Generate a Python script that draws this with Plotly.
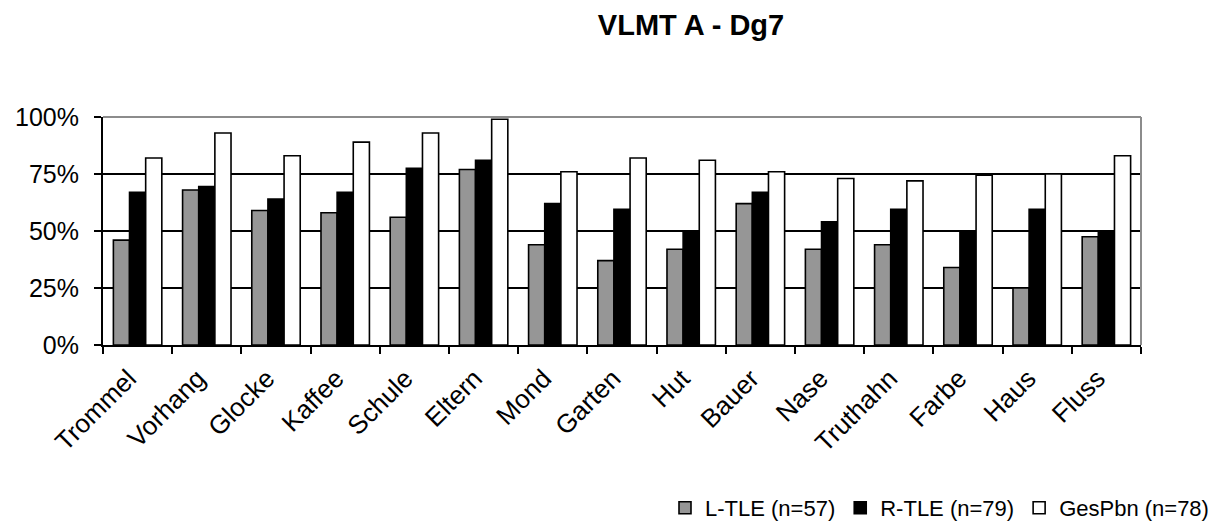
import plotly.graph_objects as go

# Words of the VLMT list A, in order of presentation
words = ["Trommel", "Vorhang", "Glocke", "Kaffee", "Schule", "Eltern", "Mond",
         "Garten", "Hut", "Bauer", "Nase", "Truthahn", "Farbe", "Haus", "Fluss"]

# Percentage of correctly recalled words per group (delayed recall, Dg7)
l_tle = [46, 68, 59, 58, 56, 77, 44, 37, 42, 62, 42, 44, 34, 25, 47.5]
r_tle = [67, 69.5, 64, 67, 77.5, 81, 62, 59.5, 50, 67, 54, 59.5, 50, 59.5, 50]
ges_pbn = [82, 93, 83, 89, 93, 99, 76, 82, 81, 76, 73, 72, 74.5, 75, 83]

series_names = ["L-TLE (n=57)", "R-TLE (n=79)", "GesPbn (n=78)"]
series_colors = ["#969696", "#000000", "#ffffff"]

y_tick_vals = [0, 25, 50, 75, 100]
y_tick_text = ["0%", "25%", "50%", "75%", "100%"]

FONT = "Liberation Sans, Arial, sans-serif"
W, H = 1228, 525

fig = go.Figure()
for name, vals, color in zip(series_names, [l_tle, r_tle, ges_pbn], series_colors):
    fig.add_bar(
        x=words, y=vals, name=name,
        marker=dict(color=color, line=dict(color="black", width=1.6)),
    )

fig.update_layout(
    width=W, height=H,
    margin=dict(l=103, r=87, t=117, b=180),
    barmode="group", bargap=0.3, bargroupgap=0,
    plot_bgcolor="white", paper_bgcolor="white",
    font=dict(family=FONT, color="black"),
    title=dict(
        text="<b>VLMT A - Dg7</b>",
        xref="container", x=691 / W, xanchor="center",
        yref="container", y=1 - 25 / H, yanchor="middle",
        font=dict(family=FONT, size=29, color="black"),
    ),
    legend=dict(
        orientation="h",
        xref="container", x=665 / W, xanchor="left",
        yref="container", y=17 / H, yanchor="middle",
        font=dict(family=FONT, size=22, color="black"),
        bgcolor="rgba(0,0,0,0)",
    ),
    showlegend=True,
)

fig.update_xaxes(
    showline=True, linecolor="black", linewidth=2,
    ticks="outside", tickson="boundaries", ticklen=7, tickwidth=2, tickcolor="black",
    tickangle=-45, tickfont=dict(family=FONT, size=26, color="black"),
    ticklabelshift=-9, ticklabelstandoff=6,
    showgrid=False,
)
fig.update_yaxes(
    range=[0, 100], tickvals=y_tick_vals, ticktext=y_tick_text,
    showline=True, linecolor="black", linewidth=2,
    ticks="outside", ticklen=7, tickwidth=2, tickcolor="black",
    ticklabelstandoff=10,
    showgrid=True, gridcolor="black", gridwidth=2, zeroline=False,
    tickfont=dict(family=FONT, size=25, color="black"),
)

# Plot-area frame: grey top and right edges
for x0, y0, x1, y1 in [(0, 1, 1, 1), (1, 0, 1, 1)]:
    fig.add_shape(type="line", xref="x domain", yref="y domain",
                  x0=x0, y0=y0, x1=x1, y1=y1,
                  line=dict(color="#8c8c8c", width=2), layer="above")

fig.write_html("out.html")
